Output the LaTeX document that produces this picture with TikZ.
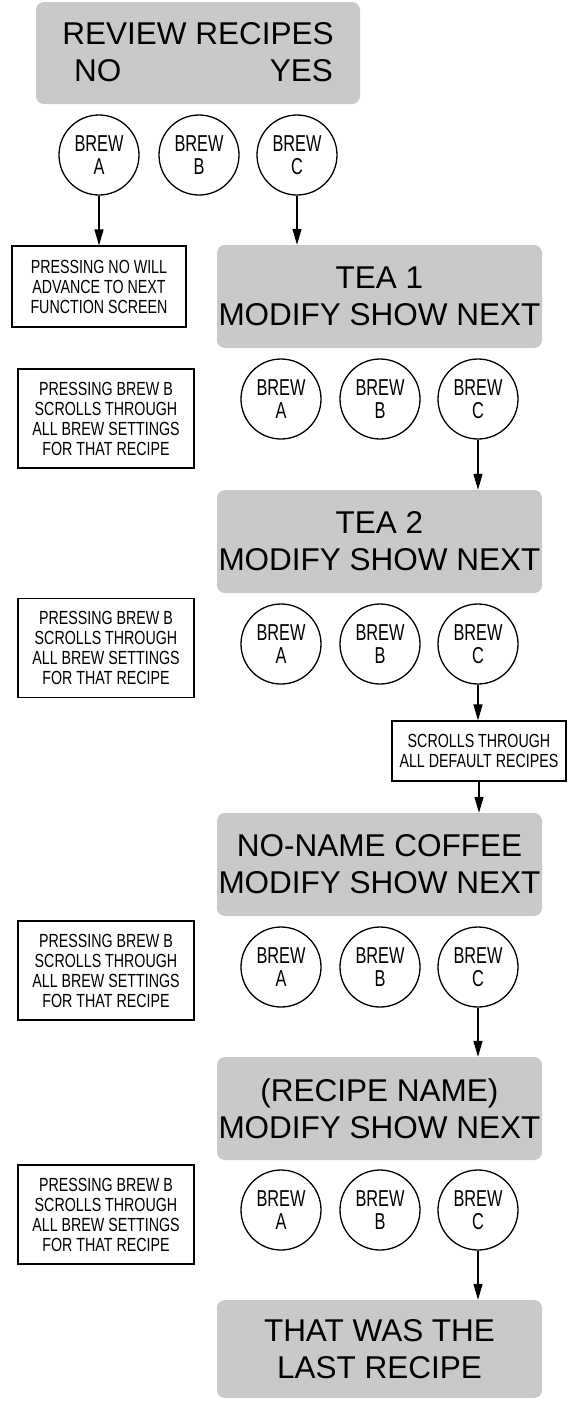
\documentclass[tikz,border=0pt]{standalone}
\usepackage{fontspec}
\setmainfont{Liberation Sans}
\newfontfamily\condfont[FakeStretch=0.75]{Liberation Sans}
\newfontfamily\circfont[FakeStretch=0.71]{Liberation Sans}
\usetikzlibrary{arrows.meta}
\definecolor{screengray}{RGB}{200,201,203}
\begin{document}
\begin{tikzpicture}[x=1pt,y=-1pt,
  screen/.style={fill=screengray, rounded corners=8pt, minimum width=325pt, minimum height=103pt, inner sep=0pt, align=center, font=\fontsize{31.5}{37}\selectfont},
  big/.style={inner sep=0pt, font=\fontsize{31.5}{37}\selectfont},
  brew/.style={circle, draw, line width=1.3pt, minimum size=80pt, inner sep=0pt, align=center, font=\circfont\fontsize{23}{23.5}\selectfont},
  note/.style={draw, line width=1.2pt, inner sep=0pt, align=center, font=\condfont\fontsize{19}{20}\selectfont},
  arr/.style={line width=1.3pt, -{Triangle[length=16pt,width=9pt]}}
]
\useasboundingbox (0,0) rectangle (568,1401);

% top screen
\node[screen, minimum width=324pt, minimum height=102pt] (s0) at (198,53) {};
\node[big, anchor=base] (t0) at (198,44) {REVIEW RECIPES};
\node[big, anchor=base west] (no) at (74,81) {NO};
\node[big, anchor=base east] (yes) at (333,81) {YES};

\node[brew] (a0) at (99,155) {BREW\\A};
\node[brew] (b0) at (199,155) {BREW\\B};
\node[brew] (c0) at (297,155) {BREW\\C};

\node[note, minimum width=174pt, minimum height=81pt] (n0) at (99,286.5) {PRESSING NO WILL\\ADVANCE TO NEXT\\FUNCTION SCREEN};

% screen 1
\node[screen] (s1) at (379.5,296.5) {TEA 1\\MODIFY SHOW NEXT};
\node[brew] (a1) at (281,399) {BREW\\A};
\node[brew] (b1) at (380,399) {BREW\\B};
\node[brew] (c1) at (478,399) {BREW\\C};
\node[note, minimum width=176pt, minimum height=99pt] (p1) at (106,418.5) {PRESSING BREW B\\SCROLLS THROUGH\\ALL BREW SETTINGS\\FOR THAT RECIPE};

% screen 2
\node[screen] (s2) at (379.5,541.5) {TEA 2\\MODIFY SHOW NEXT};
\node[brew] (a2) at (281,644) {BREW\\A};
\node[brew] (b2) at (380,644) {BREW\\B};
\node[brew] (c2) at (478,644) {BREW\\C};
\node[note, minimum width=176pt, minimum height=99pt] (p2) at (106,648) {PRESSING BREW B\\SCROLLS THROUGH\\ALL BREW SETTINGS\\FOR THAT RECIPE};

\node[note, minimum width=174pt, minimum height=60pt] (sc) at (479,751) {SCROLLS THROUGH\\ALL DEFAULT RECIPES};

% screen 3
\node[screen] (s3) at (379.5,864.5) {NO-NAME COFFEE\\MODIFY SHOW NEXT};
\node[brew] (a3) at (281,967) {BREW\\A};
\node[brew] (b3) at (380,967) {BREW\\B};
\node[brew] (c3) at (478,967) {BREW\\C};
\node[note, minimum width=176pt, minimum height=99pt] (p3) at (106,970.5) {PRESSING BREW B\\SCROLLS THROUGH\\ALL BREW SETTINGS\\FOR THAT RECIPE};

% screen 4
\node[screen] (s4) at (379.5,1108.5) {(RECIPE NAME)\\MODIFY SHOW NEXT};
\node[brew] (a4) at (281,1210) {BREW\\A};
\node[brew] (b4) at (380,1210) {BREW\\B};
\node[brew] (c4) at (478,1210) {BREW\\C};
\node[note, minimum width=176pt, minimum height=99pt] (p4) at (106,1214.5) {PRESSING BREW B\\SCROLLS THROUGH\\ALL BREW SETTINGS\\FOR THAT RECIPE};

% last screen
\node[screen, minimum height=98pt] (s5) at (379.5,1349) {THAT WAS THE\\LAST RECIPE};

% connectors
\draw[arr] (a0) -- (n0);
\draw[arr] (c0) -- (c0 |- s1.north);
\draw[arr] (c1) -- (c1 |- s2.north);
\draw[arr] (c2) -- (c2 |- sc.north);
\draw[arr] (sc) -- (sc.south |- s3.north);
\draw[arr] (c3) -- (c3 |- s4.north);
\draw[arr] (c4) -- (c4 |- s5.north);
\end{tikzpicture}
\end{document}
